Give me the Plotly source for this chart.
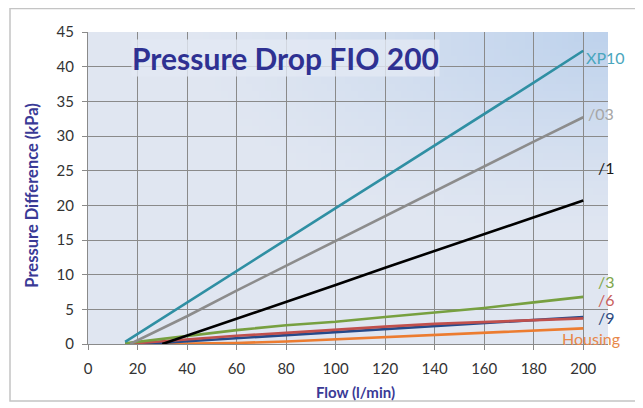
import base64
import struct
import zlib

import plotly.graph_objects as go

# ---- data ----
x_xp10 = [15, 40, 60, 80, 100, 120, 140, 160, 180, 200]
y_xp10 = [0.3, 6.0, 10.5, 15.0, 19.6, 24.1, 28.6, 33.2, 37.7, 42.3]

x_03 = [17, 40, 60, 80, 100, 120, 140, 160, 180, 200]
y_03 = [0.0, 4.0, 7.7, 11.3, 14.9, 18.4, 22.0, 25.6, 29.2, 32.7]

x_1 = [30, 40, 60, 80, 100, 120, 140, 160, 180, 200]
y_1 = [0.0, 1.2, 3.6, 6.1, 8.5, 11.0, 13.4, 15.8, 18.3, 20.7]

x_3 = [15, 40, 60, 80, 100, 120, 140, 160, 180, 200]
y_3 = [0.1, 1.2, 2.0, 2.7, 3.2, 3.9, 4.5, 5.2, 6.0, 6.8]

x_6 = [15, 40, 60, 80, 100, 120, 140, 160, 180, 200]
y_6 = [0.0, 0.7, 1.2, 1.6, 2.1, 2.5, 2.9, 3.2, 3.5, 3.7]

x_9 = [22, 40, 60, 80, 100, 120, 140, 160, 180, 200]
y_9 = [0.0, 0.4, 0.8, 1.2, 1.7, 2.1, 2.6, 3.0, 3.5, 3.9]

x_h = [22, 40, 60, 80, 100, 120, 140, 160, 180, 200]
y_h = [0.0, 0.05, 0.15, 0.35, 0.65, 1.0, 1.3, 1.65, 1.95, 2.25]

series = [
    ("Housing", x_h, y_h, "#ec7c30"),
    ("/9", x_9, y_9, "#254a8a"),
    ("/6", x_6, y_6, "#c0504d"),
    ("/3", x_3, y_3, "#77a040"),
    ("/1", x_1, y_1, "#000000"),
    ("/03", x_03, y_03, "#8c8c8c"),
    ("XP10", x_xp10, y_xp10, "#2f8fa3"),
]

labels = ["XP10", "/03", "/1", "/3", "/6", "/9", "Housing"]
label_x = [200.3, 201.0, 205.0, 205.0, 205.3, 205.3, 203.2]
label_y = [41.3, 33.3, 25.4, 9.0, 6.35, 3.85, 0.8]
label_colors = ["#4aa6bd", "#a6a6a6", "#1a1a1a", "#7ea64a", "#c9605c", "#2c4a80", "#e8884a"]
label_anchor = ["left", "left", "left", "left", "left", "left", "center"]

x_ticks = [0, 20, 40, 60, 80, 100, 120, 140, 160, 180, 200]
y_ticks = [0, 5, 10, 15, 20, 25, 30, 35, 40, 45]


# ---- background gradient image (style only) ----
def gradient_png(w, h):
    base = (224, 230, 241)
    corner = (190, 210, 236)
    rows = []
    for j in range(h):
        row = bytearray([0])
        for i in range(w):
            u = i / (w - 1)
            v = j / (h - 1)
            d = ((1 - u) ** 2 * 1.0 + (v) ** 2 * 1.5) ** 0.5
            t = max(0.0, 1 - d / 0.8)
            t = t ** 1.2
            row += bytes(int(round(base[k] + (corner[k] - base[k]) * t)) for k in range(3))
        rows.append(bytes(row))
    raw = b"".join(rows)

    def chunk(tag, data):
        c = struct.pack(">I", len(data)) + tag + data
        return c + struct.pack(">I", zlib.crc32(tag + data) & 0xFFFFFFFF)

    png = b"\x89PNG\r\n\x1a\n"
    png += chunk(b"IHDR", struct.pack(">IIBBBBB", w, h, 8, 2, 0, 0, 0))
    png += chunk(b"IDAT", zlib.compress(raw, 9))
    png += chunk(b"IEND", b"")
    return "data:image/png;base64," + base64.b64encode(png).decode()


fig = go.Figure()
for name, xs, ys, col in series:
    fig.add_trace(go.Scatter(x=xs, y=ys, mode="lines", name=name,
                             line=dict(color=col, width=2.6), hoverinfo="skip"))

ann = []
for t, lx, ly, c, a in zip(labels, label_x, label_y, label_colors, label_anchor):
    ann.append(dict(x=lx, y=ly, xref="x", yref="y", text=t, showarrow=False,
                    xanchor=a, yanchor="middle",
                    font=dict(family="Lato", size=16, color=c)))
ann.append(dict(x=79.8, y=41.3, xref="x", yref="y", text="<b>Pressure Drop FIO 200</b>",
                showarrow=False, xanchor="center", yanchor="middle",
                bgcolor="rgba(226,232,244,0.8)", borderpad=0,
                font=dict(family="Lato", size=30, color="#2e3192")))
# axis titles placed as annotations for exact position
ann.append(dict(x=0.515, y=-0.154, xref="paper", yref="paper", text="<b>Flow (l/min)</b>",
                showarrow=False, xanchor="center", yanchor="middle",
                font=dict(family="Lato", size=15, color="#3a3a96")))
ann.append(dict(x=-0.108, y=0.475, xref="paper", yref="paper",
                text="<b>Pressure Difference (kPa)</b>", textangle=-90,
                showarrow=False, xanchor="center", yanchor="middle",
                font=dict(family="Lato", size=16.5, color="#3a3a96")))

shapes = [dict(type="rect", xref="paper", yref="paper",
               x0=-0.150, x1=1.0577, y0=-0.1827, y1=1.075,
               line=dict(color="#c4c4c4", width=1.5), fillcolor="rgba(0,0,0,0)",
               layer="below")]

# The page body adds an 8px offset; the figure is sized to fill the rest of the window.
fig.update_layout(
    width=635, height=400,
    margin=dict(l=80, r=35, t=24, b=64),
    paper_bgcolor="white",
    plot_bgcolor="#e0e6f1",
    showlegend=False,
    annotations=ann,
    shapes=shapes,
    images=[dict(source=gradient_png(84, 45), xref="paper", yref="paper",
                 x=0, y=1, sizex=1, sizey=1, sizing="stretch",
                 xanchor="left", yanchor="top", layer="below")],
    font=dict(family="Lato", color="#333333"),
    xaxis=dict(range=[0, 210], tickvals=x_ticks, ticktext=[str(v) for v in x_ticks],
               showgrid=True, gridcolor="#8a8a8a", gridwidth=1.2,
               zeroline=False, showline=True, linecolor="#8a8a8a", linewidth=1.2,
               ticks="outside", ticklen=5, tickcolor="#8a8a8a", automargin=False,
               ticklabelstandoff=6,
               tickfont=dict(family="Lato", size=15, color="#333333")),
    yaxis=dict(range=[0, 45], tickvals=y_ticks, ticktext=[str(v) for v in y_ticks],
               showgrid=True, gridcolor="#8a8a8a", gridwidth=1.2,
               zeroline=False, showline=True, linecolor="#8a8a8a", linewidth=1.2,
               ticks="outside", ticklen=5, tickcolor="#8a8a8a", automargin=False,
               ticklabelstandoff=5,
               tickfont=dict(family="Lato", size=15, color="#333333")),
)

fig.write_html("out.html")
